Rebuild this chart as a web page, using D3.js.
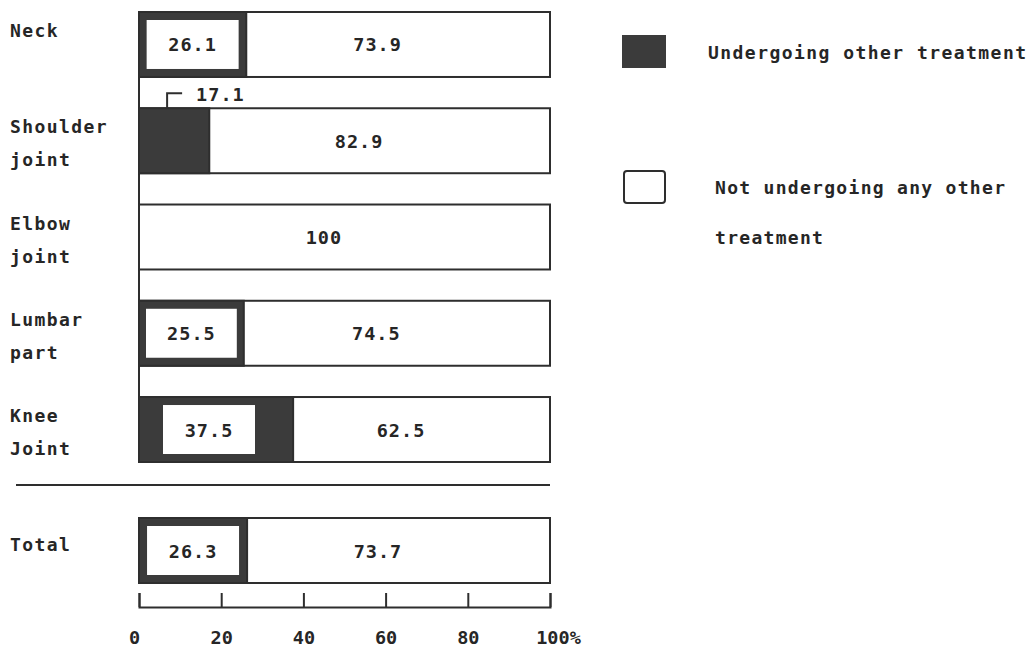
<!DOCTYPE html>
<html>
<head>
<meta charset="utf-8">
<script src="https://cdn.jsdelivr.net/npm/d3@7/dist/d3.min.js"></script>
<style>
  html, body { margin: 0; padding: 0; background: #fff; }
  svg text { font-family: "DejaVu Sans Mono", "Liberation Mono", monospace; font-weight: bold; fill: #262626; }
</style>
</head>
<body>
<svg id="chart" width="1030" height="654"></svg>
<script>
// ---- data ----
const categories = ["Neck", "Shoulder joint", "Elbow joint", "Lumbar part", "Knee Joint"];
const categoryLines = [["Neck"], ["Shoulder", "joint"], ["Elbow", "joint"], ["Lumbar", "part"], ["Knee", "Joint"]];
const undergoing = [26.1, 17.1, 0, 25.5, 37.5];
const notUndergoing = [73.9, 82.9, 100, 74.5, 62.5];
const totalLabel = "Total";
const totalUndergoing = 26.3;
const totalNot = 73.7;
const tickValues = [0, 20, 40, 60, 80, 100];
const legendLabels = ["Undergoing other treatment", ["Not undergoing any other", "treatment"]];

// ---- layout ----
const svg = d3.select("#chart");
const dark = "#3b3b3b", line = "#2e2e2e";
const FS = 18, LS = 1.4, NFS = 18.5;
const x = d3.scaleLinear().domain([0, 100]).range([139, 550]);
const y = d3.scaleBand().domain(categories).range([12, 462]).paddingInner(0.325).paddingOuter(0);
const totalY = d3.scaleBand().domain([totalLabel]).range([518, 583]);

const fmt = v => d3.format(".1f")(v).replace(/\.0$/, "");

function drawBar(g, top, h, dv, wv, showInnerBox) {
  const x0 = x(0), xd = x(dv), x1 = x(100);
  g.append("rect").attr("x", x0).attr("y", top).attr("width", x1 - x0).attr("height", h)
    .attr("fill", "#fff").attr("stroke", line).attr("stroke-width", 2);
  if (dv > 0) {
    g.append("rect").attr("x", x0).attr("y", top).attr("width", xd - x0).attr("height", h)
      .attr("fill", dark).attr("stroke", line).attr("stroke-width", 2);
    if (showInnerBox) {
      const w = Math.min(92, xd - x0 - 14);
      const cx = Math.min((x0 + xd) / 2, x0 + 8 + 62);
      g.append("rect").attr("x", cx - w / 2).attr("y", top + 8).attr("width", w).attr("height", h - 16)
        .attr("fill", "#fff");
      g.append("text").attr("x", cx).attr("y", top + h / 2 + 7).attr("text-anchor", "middle")
        .attr("font-size", NFS).attr("letter-spacing", 1).text(fmt(dv));
    } else {
      const lx = x(dv * 0.4);
      g.append("path").attr("d", `M${lx},${top} V${top - 15} H${lx + 15}`)
        .attr("fill", "none").attr("stroke", line).attr("stroke-width", 2);
      g.append("text").attr("x", lx + 29).attr("y", top - 7).attr("font-size", NFS)
        .attr("letter-spacing", 1).text(fmt(dv));
    }
  }
  g.append("text").attr("x", (xd + x(90)) / 2).attr("y", top + h / 2 + 7).attr("text-anchor", "middle")
    .attr("font-size", NFS).attr("letter-spacing", 1).text(fmt(wv));
}

// left spine connecting the category bars
svg.append("line").attr("x1", x(0)).attr("x2", x(0)).attr("y1", y.range()[0]).attr("y2", y.range()[1])
  .attr("stroke", line).attr("stroke-width", 2);

categories.forEach((c, i) => {
  const g = svg.append("g");
  drawBar(g, y(c), y.bandwidth(), undergoing[i], notUndergoing[i], undergoing[i] >= 20);
  categoryLines[i].forEach((t, j) => {
    svg.append("text").attr("x", 10).attr("y", y(c) + 25 + j * 33).attr("font-size", FS)
      .attr("letter-spacing", LS).text(t);
  });
});

// separator
svg.append("line").attr("x1", 16).attr("x2", x(100)).attr("y1", 485).attr("y2", 485)
  .attr("stroke", line).attr("stroke-width", 2);

// total bar
drawBar(svg.append("g"), totalY(totalLabel), totalY.bandwidth(), totalUndergoing, totalNot, true);
svg.append("text").attr("x", 10).attr("y", totalY(totalLabel) + 33).attr("font-size", FS)
  .attr("letter-spacing", LS).text(totalLabel);

// axis: bracket-style ticks
const axisG = svg.append("g").attr("transform", "translate(0,607)")
  .call(d3.axisTop(x).tickValues(tickValues).tickSize(14).tickSizeOuter(14).tickFormat(""));
axisG.selectAll("path, line").attr("stroke", line).attr("stroke-width", 2);

const labG = svg.append("g").attr("transform", "translate(0,628)")
  .call(d3.axisBottom(x).tickValues(tickValues).tickSize(0).tickFormat(d => d === 100 ? d + "%" : d));
labG.select(".domain").remove();
labG.selectAll("text").attr("font-size", NFS).attr("font-family", "DejaVu Sans Mono")
  .attr("font-weight", "bold").attr("fill", "#262626").attr("dy", "0.71em");
labG.selectAll(".tick").filter(d => d === 100).select("text").attr("dx", 8);
labG.selectAll(".tick").filter(d => d === 0).select("text").attr("dx", -5);

// legend
const leg = svg.append("g");
leg.append("rect").attr("x", 622).attr("y", 35).attr("width", 44).attr("height", 33).attr("fill", dark);
leg.append("text").attr("x", 708).attr("y", 59).attr("font-size", FS).attr("letter-spacing", 1.45)
  .text(legendLabels[0]);
leg.append("rect").attr("x", 624).attr("y", 171).attr("width", 41).attr("height", 32).attr("rx", 3)
  .attr("fill", "#fff").attr("stroke", line).attr("stroke-width", 2);
legendLabels[1].forEach((t, j) => {
  leg.append("text").attr("x", 715).attr("y", 194 + j * 50).attr("font-size", FS).attr("letter-spacing", 1.3).text(t);
});
</script>
</body>
</html>
